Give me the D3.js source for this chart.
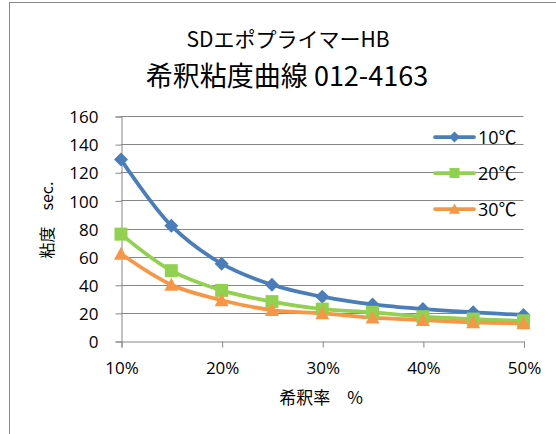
<!DOCTYPE html>
<html><head><meta charset="utf-8">
<script src="https://cdn.jsdelivr.net/npm/d3@7/dist/d3.min.js"></script>
<style>
body{margin:0;background:#fff;}
svg{display:block;}
text{font-family:"Open Sans","Noto Sans CJK JP",sans-serif;fill:#000;}
</style></head><body>
<svg id="c" width="556" height="434"></svg>
<script>
const dilution = [0.10,0.15,0.20,0.25,0.30,0.35,0.40,0.45,0.50];
const s10 = [129,82,55,40,31.5,26,22.7,20.4,18.5];
const s20 = [76,50,36,28,22.7,20.4,17.3,15.6,14.4];
const s30 = [62,40,29,22,19.7,16.6,14.9,13.3,12.6];
const seriesNames = ["10℃","20℃","30℃"];
const yTicks = [0,20,40,60,80,100,120,140,160];
const xTicks = [0.1,0.2,0.3,0.4,0.5];
const titleLines = ["SDエポプライマーHB","希釈粘度曲線 012-4163"];
const xTitle = "希釈率　%";
const yTitle = "粘度　sec.";

const colors = ["#4A7EBB","#92D050","#F79646"];

function markerPath(kind, r){
  if(kind===0) return `M0,${-r}L${r},0L0,${r}L${-r},0Z`;
  if(kind===1) return `M${-r},${-r}H${r}V${r}H${-r}Z`;
  return `M0,${-r}L${r},${r*0.85}L${-r},${r*0.85}Z`;
}

const svg = d3.select("#c");
svg.append("rect").attr("x",9.5).attr("y",2.5).attr("width",600).attr("height",500)
  .attr("fill","none").attr("stroke","#888").attr("stroke-width",1);

const x = d3.scaleLinear().domain([0.1,0.5]).range([121,523.5]);
const y = d3.scaleLinear().domain([0,160]).range([341,116]);

svg.append("g").selectAll("line").data(yTicks.filter(d=>d>0)).join("line")
  .attr("x1",121).attr("x2",523.5)
  .attr("y1",d=>Math.round(y(d))+0.5).attr("y2",d=>Math.round(y(d))+0.5)
  .attr("stroke","#868686").attr("stroke-width",1);

const ya = svg.append("g").attr("transform","translate(121.5,0.5)")
  .call(d3.axisLeft(y).tickValues(yTicks).tickSize(6).tickPadding(17).tickFormat(d3.format("d")));
ya.select(".domain").attr("stroke","#868686");
ya.selectAll(".tick line").attr("stroke","#868686");
ya.selectAll("text").attr("font-size","17px").attr("fill","#000").attr("dy","0.36em")
  .style("font-family","'Open Sans',sans-serif");

const xa = svg.append("g").attr("transform","translate(0.5,341.5)")
  .call(d3.axisBottom(x).tickValues(xTicks).tickSize(6).tickPadding(14).tickFormat(d3.format(".0%")));
xa.select(".domain").attr("stroke","#868686");
xa.selectAll(".tick line").attr("stroke","#868686");
xa.selectAll("text").attr("font-size","17px").attr("fill","#000")
  .style("font-family","'Open Sans',sans-serif");

const allSeries = [s10,s20,s30];
const line = d3.line().x((d,i)=>x(dilution[i])).y(d=>y(d)).curve(d3.curveCatmullRom.alpha(0.5));

allSeries.forEach((s,k)=>{
  svg.append("path").datum(s).attr("d",line).attr("fill","none")
    .attr("stroke",colors[k]).attr("stroke-width",3.75).attr("stroke-linejoin","round");
});
const mr = [7,6.5,7];
allSeries.forEach((s,k)=>{
  svg.append("g").selectAll("path").data(s).join("path")
    .attr("transform",(d,i)=>`translate(${x(dilution[i])},${y(d)})`)
    .attr("d",markerPath(k,mr[k]))
    .attr("fill",colors[k]);
});

const legY = [137,173,209];
seriesNames.forEach((n,k)=>{
  const g = svg.append("g").attr("transform",`translate(0,${legY[k]})`);
  g.append("line").attr("x1",435).attr("x2",474).attr("y1",0).attr("y2",0)
    .attr("stroke",colors[k]).attr("stroke-width",3.75).attr("stroke-linecap","round");
  g.append("path").attr("transform","translate(454.5,0)")
    .attr("d",markerPath(k,k==1?5:5.5)).attr("fill",colors[k]);
  g.append("text").attr("x",478).attr("y",7).attr("font-size","18px").text(n);
});

svg.append("text").attr("x",288).attr("y",47).attr("text-anchor","middle").attr("font-size","21px")
  .style("font-family","'Noto Sans CJK JP',sans-serif").text(titleLines[0]);
svg.append("text").attr("x",287).attr("y",86).attr("text-anchor","middle").attr("font-size","27px")
  .style("font-family","'Noto Sans CJK JP',sans-serif").text(titleLines[1]);

svg.append("text").attr("x",321).attr("y",404).attr("text-anchor","middle").attr("font-size","17px")
  .style("font-family","'Noto Sans CJK JP',sans-serif").text(xTitle);
svg.append("text").attr("transform","translate(53,220) rotate(-90)").attr("text-anchor","middle")
  .attr("font-size","16px").style("font-family","'Noto Sans CJK JP',sans-serif").text(yTitle);
</script>
</body></html>
